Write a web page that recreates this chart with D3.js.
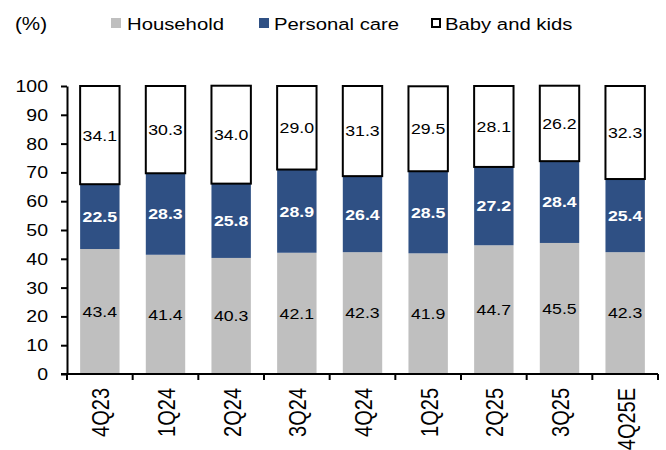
<!DOCTYPE html>
<html><head><meta charset="utf-8">
<script src="https://cdn.jsdelivr.net/npm/d3@7"></script>
<style>body{margin:0;background:#fff}svg{display:block;font-family:"Liberation Sans",Arial,sans-serif}</style>
</head><body><svg id="c" width="666" height="450"></svg>
<script>
const categories = ["4Q23","1Q24","2Q24","3Q24","4Q24","1Q25","2Q25","3Q25","4Q25E"];
const household = [43.4,41.4,40.3,42.1,42.3,41.9,44.7,45.5,42.3];
const personalCare = [22.5,28.3,25.8,28.9,26.4,28.5,27.2,28.4,25.4];
const babyKids = [34.1,30.3,34.0,29.0,31.3,29.5,28.1,26.2,32.3];
const yTicks = [0,10,20,30,40,50,60,70,80,90,100];
const seriesNames = ["Household","Personal care","Baby and kids"];

const SX = 1.18; // horizontal stretch of reference text
const svg = d3.select("#c");
const x = d3.scaleBand().domain(categories).range([67,658]).paddingInner(0.40).paddingOuter(0.20);
const y = d3.scaleLinear().domain([0,100]).range([374,86]);
const colors = ["#bfbfbf","#2f5084","#ffffff"];

const rows = categories.map((c,i)=>({cat:c, Household:household[i], "Personal care":personalCare[i], "Baby and kids":babyKids[i]}));
const stack = d3.stack().keys(seriesNames)(rows);

stack.forEach((s,si)=>{
  const g = svg.append("g");
  g.selectAll("rect").data(s).join("rect")
    .attr("x", d=>x(d.data.cat)).attr("width", x.bandwidth())
    .attr("y", d=>y(d[1])).attr("height", d=>y(d[0])-y(d[1]))
    .attr("fill", colors[si])
    .attr("stroke", si===2 ? "#000" : "none").attr("stroke-width", si===2?2:0);
  g.selectAll("text").data(s).join("text")
    .attr("transform", d=>`translate(${x(d.data.cat)+x.bandwidth()/2},${(y(d[0])+y(d[1]))/2}) scale(${SX},1)`)
    .attr("dy","0.36em").attr("text-anchor","middle")
    .attr("font-size", 15)
    .attr("font-weight", si===1?"bold":"normal")
    .attr("fill", si===1?"#fff":"#000")
    .text(d=>(d[1]-d[0]).toFixed(1));
});

// Y axis
const yAxis = svg.append("g").attr("transform","translate(67,0)")
  .call(d3.axisLeft(y).tickValues(yTicks).tickSize(6).tickSizeOuter(0).tickFormat(""));
yAxis.select(".domain").attr("stroke","#000").attr("stroke-width",2);
yAxis.selectAll(".tick line").attr("stroke","#000").attr("stroke-width",2);
svg.append("g").selectAll("text").data(yTicks).join("text")
  .attr("transform", d=>`translate(48,${y(d)}) scale(${SX},1)`)
  .attr("dy","0.36em").attr("text-anchor","end").attr("font-size",16.5).attr("fill","#000")
  .text(d=>d);

// X axis
const xg = svg.append("g").attr("transform","translate(0,374)");
xg.append("line").attr("x1",61).attr("x2",658).attr("stroke","#000").attr("stroke-width",2);
const bounds = d3.range(categories.length+1).map(i=>67 + i*(591/categories.length));
xg.selectAll("line.tk").data(bounds).join("line").attr("class","tk")
  .attr("x1",d=>d).attr("x2",d=>d).attr("y1",0).attr("y2",6).attr("stroke","#000").attr("stroke-width",2);
xg.selectAll("text").data(categories).join("text")
  .attr("transform", d=>`translate(${x(d)+x.bandwidth()/2+1},14) scale(${SX},1) rotate(-90)`)
  .attr("text-anchor","end").attr("dy","0.36em")
  .attr("font-size",20).attr("fill","#000").text(d=>d);

// Unit label
svg.append("text").attr("transform",`translate(15,30) scale(${SX},1)`).attr("font-size",17.5).text("(%)");

// Legend
const legSq = [111,259,431];
const legTx = [127,274,445];
seriesNames.forEach((n,i)=>{
  const lg = svg.append("g");
  if(i===2){
    lg.append("rect").attr("x",legSq[i]+1).attr("y",19).attr("width",8).attr("height",8).attr("fill","#fff").attr("stroke","#000").attr("stroke-width",2);
  } else {
    lg.append("rect").attr("x",legSq[i]).attr("y",18).attr("width",10).attr("height",10).attr("fill",colors[i]);
  }
  lg.append("text").attr("transform",`translate(${legTx[i]},30) scale(${SX},1)`).attr("font-size",17.2).text(n);
});
</script></body></html>
